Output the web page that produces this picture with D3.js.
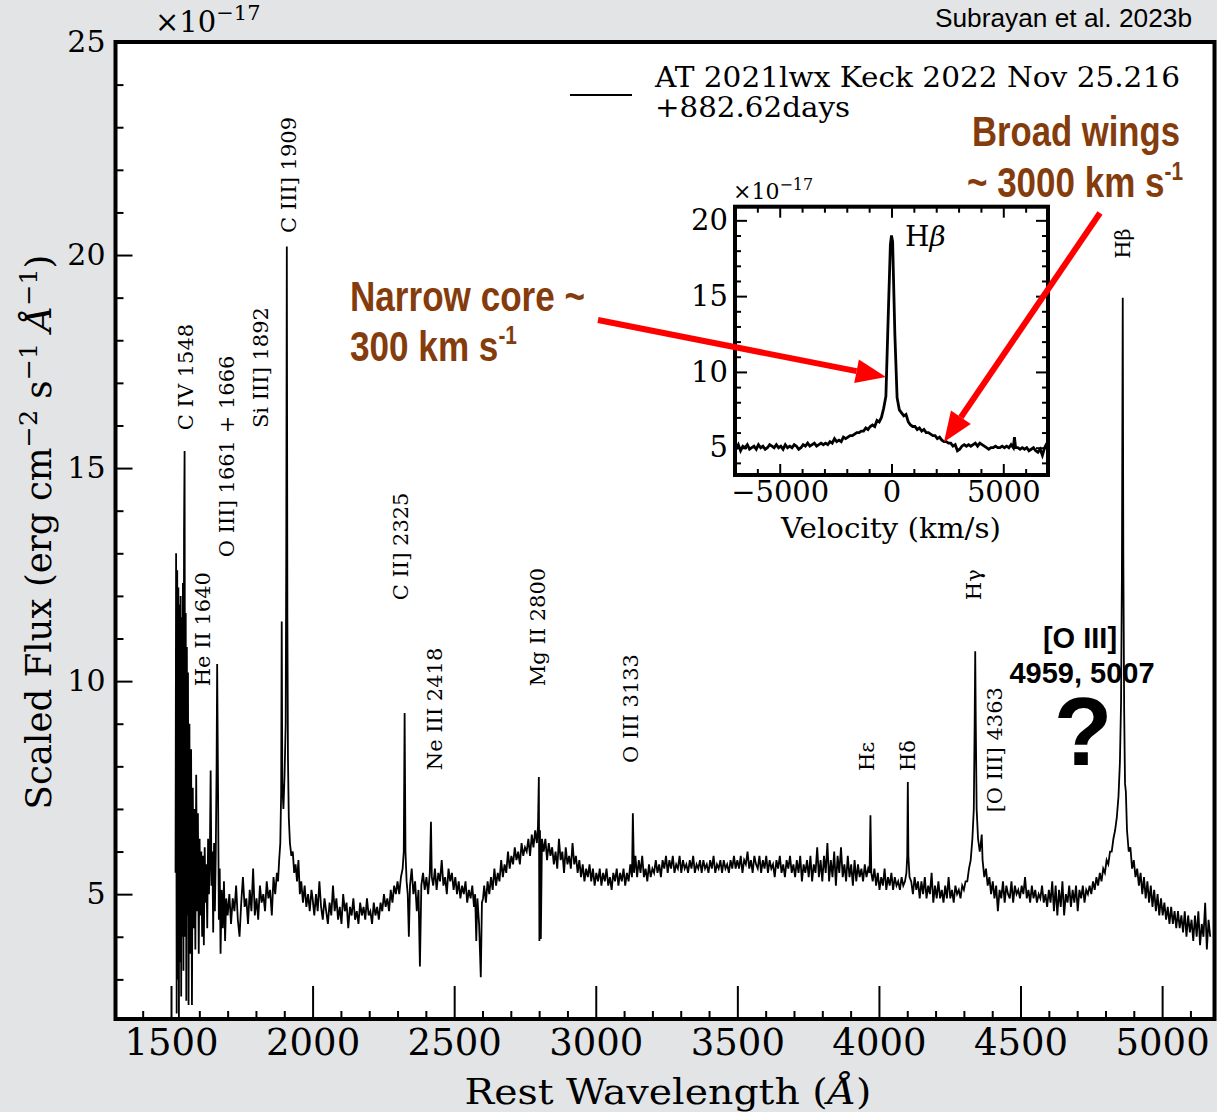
<!DOCTYPE html>
<html>
<head>
<meta charset="utf-8">
<title>AT 2021lwx spectrum</title>
<script src="https://cdn.jsdelivr.net/npm/d3@7"></script>
<style>
  body { margin: 0; background: #e3e4e5; }
  svg text { font-family: "DejaVu Serif", serif; fill: #000; }
  .sans { font-family: "Liberation Sans", Arial, sans-serif; }
</style>
</head>
<body>
<script>
// ---- data ----
// main spectrum: [rest wavelength (A), flux (1e-17 erg/cm2/s/A)]
var spectrum = [
 [1516,5.5],[1518,13.0],[1520,2.2],[1522,12.6],[1524,3.0],[1526,12.2],[1528,2.1],[1530,11.8],[1532,3.4],[1534,12.0],
 [1536,2.6],[1538,11.5],[1540,4.0],[1542,12.3],[1544,3.2],[1546,13.5],[1548,15.4],[1550,4.0],[1552,11.6],[1554,2.5],
 [1556,10.8],[1558,4.5],[1560,10.2],[1562,2.4],[1565,9.0],[1568,3.6],[1571,8.4],[1574,2.4],[1577,7.5],[1580,4.2],
 [1583,7.0],[1586,3.7],[1589,7.8],[1592,4.6],[1595,6.9],[1598,3.6],[1601,6.3],[1604,4.5],[1607,6.0],[1610,4.0],
 [1613,5.9],[1616,3.8],[1619,6.1],[1622,4.8],[1625,5.7],[1628,4.2],[1631,6.3],[1634,5.0],[1637,5.8],[1640,7.9],
 [1643,5.2],[1646,6.0],[1649,4.1],[1652,6.2],[1655,4.6],[1658,5.9],[1661,8.0],[1663,10.4],[1666,7.6],[1669,4.4],
 [1672,5.6],[1675,3.6],[1679,5.1],[1683,4.2],[1687,5.3],[1691,3.9],[1695,4.9],
 [1700,4.5],[1706,5.0],[1712,4.3],[1718,4.9],[1724,4.6],[1730,5.2],[1736,4.4],[1742,4.0],[1748,4.8],[1754,5.4],
 [1760,4.7],[1766,4.9],[1772,4.3],[1778,5.1],[1784,4.6],[1790,5.6],[1796,4.5],[1802,4.9],[1808,4.4],[1814,5.2],
 [1820,4.8],[1826,5.0],[1832,4.6],[1838,5.3],[1844,4.9],[1850,5.1],[1856,4.5],[1862,5.4],[1868,5.0],[1874,5.5],
 [1878,5.3],[1882,5.8],[1886,6.2],[1889,7.4],[1891,11.4],[1893,7.6],[1897,7.0],[1901,7.8],[1905,9.0],[1907,13.0],
 [1909,20.2],[1911,11.5],[1913,8.2],[1916,6.8],[1920,6.2],[1925,5.9],[1930,6.0],[1935,5.5],[1940,5.7],[1945,5.3],
 [1950,5.8],[1955,5.0],[1960,5.3],[1966,4.8],[1972,5.2],[1978,4.7],[1984,5.0],[1990,4.6],[1996,5.1],
 [2000,4.9],[2006,4.5],[2012,5.0],[2018,4.6],[2024,5.3],[2030,4.7],[2036,4.4],[2042,4.9],[2048,4.6],[2054,4.3],
 [2060,4.8],[2066,4.5],[2072,5.2],[2078,4.6],[2084,4.9],[2090,4.4],[2096,4.7],[2102,4.3],[2108,5.0],[2114,4.6],
 [2120,4.8],[2126,4.2],[2132,4.7],[2138,4.5],[2144,4.9],[2150,4.4],[2156,4.6],[2162,4.3],[2168,4.8],[2174,4.5],
 [2180,4.7],[2186,4.4],[2192,4.9],[2198,4.5],[2204,4.6],[2210,4.3],[2216,4.8],[2222,4.5],[2228,4.7],[2234,4.4],
 [2240,4.8],[2246,4.6],[2252,5.0],[2258,4.7],[2264,4.9],[2270,4.6],[2276,5.1],[2282,4.8],[2288,5.2],[2294,5.0],
 [2300,5.3],[2306,5.0],[2312,5.4],[2318,5.6],[2322,6.0],[2325,9.25],[2328,6.0],[2332,5.3],[2336,5.0],[2340,4.0],
 [2344,5.2],[2350,5.6],[2356,5.0],[2362,5.3],[2368,4.6],[2374,5.1],[2379,3.3],[2384,5.2],[2390,5.5],[2396,5.1],
 [2402,5.4],[2408,5.0],[2414,5.5],[2418,6.7],[2421,5.4],[2426,5.2],[2432,5.6],[2438,5.1],[2444,5.5],[2450,5.3],
 [2456,5.8],[2462,5.2],[2468,5.4],[2474,5.0],[2480,5.6],[2486,5.3],[2492,5.5],[2498,5.1],[2504,5.4],[2510,5.0],
 [2516,5.3],[2522,4.9],[2528,5.2],[2534,5.0],[2540,5.3],[2546,4.8],[2552,5.1],[2558,4.9],[2564,5.2],[2570,4.7],
 [2574,5.0],[2578,3.9],[2582,4.9],[2588,4.3],[2594,3.05],[2598,4.8],[2602,4.9],[2606,5.2],[2612,4.8],[2618,5.3],
 [2624,5.0],[2630,5.4],[2636,5.1],[2642,5.6],[2648,5.2],[2654,5.5],[2660,5.3],[2666,5.8],[2672,5.4],[2678,5.7],
 [2684,5.5],[2690,6.0],[2696,5.6],[2702,5.9],[2708,5.7],[2714,6.1],[2720,5.8],[2726,6.0],[2732,5.7],[2738,6.2],
 [2744,5.9],[2750,6.1],[2756,6.0],[2762,6.3],[2768,5.9],[2774,6.4],[2780,6.1],[2786,6.5],[2792,6.2],[2796,6.6],
 [2799,7.75],[2801,3.9],[2803,6.5],[2806,3.95],[2810,6.3],[2816,6.0],[2822,6.3],[2828,5.8],[2834,6.2],[2840,5.9],
 [2846,6.1],[2852,5.7],[2858,6.0],[2864,5.6],[2870,6.3],[2876,5.8],[2882,6.0],[2888,5.5],[2894,6.1],[2900,5.7],
 [2906,5.9],[2912,5.6],[2918,6.2],[2924,5.7],[2930,5.9],[2936,5.5],[2942,5.8],[2948,5.4],[2954,5.7],[2960,5.3],
 [2966,5.6],[2972,5.4],[2978,5.7],[2984,5.3],[2990,5.6],[2996,5.2],[3002,5.5],[3008,5.3],[3014,5.6],[3020,5.2],
 [3026,5.5],[3032,5.3],[3038,5.6],[3044,5.2],[3050,5.4],[3056,5.1],[3062,5.5],[3068,5.3],[3074,5.6],[3080,5.2],
 [3086,5.5],[3092,5.3],[3098,5.6],[3104,5.2],[3110,5.5],[3116,5.3],[3122,5.7],[3128,5.4],[3131,6.9],[3135,5.5],
 [3140,5.9],[3146,5.4],[3152,5.8],[3158,5.5],[3164,5.9],[3170,5.4],[3176,5.6],[3182,5.3],[3188,5.7],[3194,5.4],
 [3200,5.6],[3206,5.5],[3212,5.8],[3218,5.5],[3224,5.7],[3230,5.4],[3236,5.8],[3242,5.6],[3248,5.9],[3254,5.5],
 [3260,5.8],[3266,5.6],[3272,5.9],[3278,5.5],[3284,5.7],[3290,5.6],[3296,5.9],[3302,5.5],[3308,5.8],[3314,5.6],
 [3320,5.7],[3326,5.5],[3332,5.8],[3338,5.6],[3344,5.9],[3350,5.5],[3356,5.7],[3362,5.6],[3368,5.8],[3374,5.5],
 [3380,5.8],[3386,5.6],[3392,5.7],[3398,5.5],[3404,5.8],[3410,5.6],[3416,5.9],[3422,5.5],[3428,5.7],[3434,5.6],
 [3440,5.8],[3446,5.5],[3452,5.8],[3458,5.6],[3464,5.7],[3470,5.5],[3476,5.8],[3482,5.6],[3488,5.9],[3494,5.6],
 [3500,5.8],[3506,5.6],[3512,5.9],[3518,5.5],[3524,5.8],[3530,5.7],[3536,6.0],[3542,5.6],[3548,5.8],[3554,5.5],
 [3560,5.9],[3566,5.7],[3572,5.6],[3578,5.9],[3584,5.5],[3590,5.8],[3596,5.6],[3602,5.9],[3608,5.5],[3614,5.8],
 [3620,5.6],[3626,5.7],[3632,5.4],[3638,5.8],[3644,5.6],[3650,5.9],[3656,5.5],[3662,5.7],[3668,5.4],[3674,5.8],
 [3680,5.6],[3686,5.9],[3692,5.5],[3698,5.7],[3704,5.4],[3710,5.8],[3716,5.5],[3722,5.9],[3728,5.3],[3734,5.7],
 [3740,5.5],[3746,5.8],[3752,5.4],[3758,5.9],[3764,5.3],[3770,5.7],[3776,5.5],[3782,6.1],[3788,5.4],[3794,5.8],
 [3800,5.3],[3806,5.9],[3812,5.5],[3818,6.2],[3824,5.3],[3830,5.8],[3836,5.4],[3842,6.0],[3848,5.2],[3854,5.9],
 [3860,5.5],[3866,6.1],[3872,5.4],[3878,5.7],[3884,5.3],[3890,5.9],[3896,5.4],[3902,5.7],[3908,5.2],[3914,5.8],
 [3920,5.3],[3926,5.7],[3932,5.4],[3938,5.6],[3944,5.3],[3950,5.7],[3956,5.4],[3962,5.6],[3967,5.5],[3970,6.85],
 [3973,5.5],[3978,5.3],[3984,5.6],[3990,5.2],[3996,5.5],[4002,5.1],[4008,5.4],[4014,5.2],[4020,5.6],[4026,5.1],
 [4032,5.4],[4038,5.2],[4044,5.5],[4050,5.1],[4056,5.4],[4062,5.2],[4068,5.3],[4074,5.1],[4080,5.4],[4086,5.2],
 [4092,5.3],[4097,5.5],[4100,5.9],[4102,7.63],[4104,5.9],[4108,5.4],[4114,5.3],[4120,5.0],[4126,5.4],[4132,5.1],
 [4138,5.3],[4144,4.9],[4150,5.3],[4156,5.0],[4162,5.4],[4168,4.9],[4174,5.2],[4180,5.0],[4186,5.5],[4192,4.8],
 [4198,5.2],[4204,4.9],[4210,5.3],[4216,4.9],[4222,5.1],[4228,4.8],[4234,5.2],[4240,4.9],[4246,5.4],[4252,4.9],
 [4258,5.1],[4264,4.8],[4270,5.2],[4276,5.0],[4282,5.1],[4288,4.9],[4294,5.2],[4300,5.1],[4306,5.3],[4312,5.3],
 [4318,5.6],[4324,5.8],[4330,6.3],[4335,7.0],[4338,9.0],[4340,10.7],[4342,9.0],[4345,7.0],[4350,6.3],[4356,6.0],
 [4360,6.2],[4363,6.4],[4366,5.8],[4372,5.4],[4378,5.6],[4384,5.2],[4390,5.4],[4396,5.0],[4402,5.3],[4408,4.9],
 [4414,5.2],[4420,4.6],[4426,5.1],[4432,4.9],[4438,5.3],[4444,4.8],[4450,5.2],[4456,5.0],[4462,4.9],[4468,5.3],
 [4474,4.8],[4480,5.2],[4486,5.0],[4492,5.1],[4498,4.9],[4504,5.2],[4510,5.0],[4516,5.4],[4522,4.9],[4528,5.1],
 [4534,4.8],[4540,5.2],[4546,4.9],[4552,5.1],[4558,4.8],[4564,5.0],[4570,4.9],[4576,5.2],[4582,4.8],[4588,5.0],
 [4594,4.7],[4600,5.1],[4606,4.8],[4612,5.3],[4618,4.6],[4624,5.2],[4630,4.5],[4636,5.1],[4642,4.7],[4648,5.3],
 [4654,4.5],[4660,5.0],[4666,4.8],[4672,5.2],[4678,4.7],[4684,5.1],[4690,4.8],[4696,5.2],[4702,4.6],[4708,5.1],
 [4714,4.9],[4720,5.2],[4726,4.8],[4732,5.1],[4738,5.0],[4744,5.2],[4750,5.0],[4756,5.3],[4762,5.1],[4768,5.4],
 [4774,5.2],[4780,5.5],[4786,5.3],[4792,5.6],[4798,5.5],[4804,5.8],[4810,5.7],[4816,6.0],[4822,6.0],[4828,6.3],
 [4834,6.5],[4840,6.8],[4846,7.3],[4851,8.1],[4855,9.5],[4858,12.5],[4861,19.0],[4863,13.0],[4866,9.3],[4869,7.6],
 [4872,7.4],[4876,6.5],[4882,6.0],[4888,6.1],[4894,5.6],[4900,5.8],[4906,5.4],[4912,5.6],[4918,5.2],[4924,5.5],
 [4930,5.0],[4936,5.4],[4942,4.9],[4948,5.3],[4954,4.8],[4960,5.2],[4966,4.7],[4972,5.1],[4978,4.6],[4984,5.0],
 [4990,4.5],[4996,4.9],[5002,4.5],[5008,4.8],[5014,4.4],[5020,4.7],[5026,4.3],[5032,4.7],[5038,4.3],[5044,4.6],
 [5050,4.2],[5056,4.6],[5062,4.2],[5068,4.5],[5074,4.1],[5080,4.6],[5086,4.0],[5092,4.5],[5098,4.1],[5104,4.4],
 [5110,3.9],[5116,4.5],[5122,4.0],[5128,4.6],[5134,3.8],[5140,4.3],[5146,4.0],[5152,4.8],[5158,3.7],[5164,4.4],[5170,4.0]
];

// inset: H-beta profile, velocity (km/s) and flux
var hbVel = [-6950,-6850,-6750,-6650,-6550,-6450,-6350,-6250,-6150,-6050,-5950,-5850,-5750,-5650,-5550,-5450,-5350,-5250,-5150,-5050,
 -4950,-4850,-4750,-4650,-4550,-4450,-4350,-4250,-4150,-4050,-3950,-3850,-3750,-3650,-3550,-3450,-3350,-3250,-3150,-3050,
 -2950,-2850,-2750,-2650,-2550,-2450,-2350,-2250,-2150,-2050,-1950,-1850,-1750,-1650,-1550,-1450,-1350,-1250,-1150,-1050,
 -950,-850,-750,-650,-550,-450,-350,-250,-150,-50,0,50,150,250,350,450,550,650,750,850,950,1050,1150,1250,1350,1450,1550,
 1650,1750,1850,1950,2050,2150,2250,2350,2450,2550,2650,2750,2850,2950,3050,3150,3250,3350,3450,3550,3650,3750,3850,3950,
 4050,4150,4250,4350,4450,4550,4650,4750,4850,4950,5050,5150,5250,5350,5450,5500,5550,5650,5750,5850,5950,6050,6150,6250,
 6350,6450,6550,6650,6750,6850,6950];
var hbFlux = [4.9,5.2,4.8,5.1,5.0,5.2,4.9,5.0,5.1,4.9,5.2,5.0,5.1,4.9,5.0,5.2,5.1,5.0,5.2,5.0,
 5.1,4.9,5.2,5.0,5.1,5.0,5.2,5.1,4.9,5.0,5.2,5.1,5.3,5.1,5.2,5.3,5.1,5.2,5.3,5.2,
 5.3,5.2,5.4,5.3,5.6,5.4,5.5,5.4,5.7,5.6,5.7,5.8,5.8,5.9,6.0,6.0,6.1,6.1,6.3,6.2,
 6.4,6.5,6.4,6.8,6.7,7.0,7.6,8.4,13.5,18.4,19.0,18.6,12.5,8.3,7.5,7.3,7.1,7.2,6.7,6.5,6.4,6.4,6.2,6.3,6.1,6.2,6.0,
 6.0,5.9,5.8,5.8,5.6,5.7,5.5,5.4,5.4,5.3,5.3,5.1,5.2,4.8,4.9,5.1,5.2,5.1,5.2,5.1,5.2,5.3,5.1,5.3,
 5.2,5.1,5.0,4.9,5.0,5.0,5.1,5.0,5.0,5.1,5.0,5.1,5.0,5.2,5.0,5.7,5.0,5.0,4.9,5.0,4.9,5.0,4.8,4.9,
 5.0,4.8,4.7,4.9,4.5,5.0,5.3];

// line identifications: label, wavelength of label, flux at bottom of label
var lineNames = ["C IV 1548","He II 1640","O III] 1661 + 1666","Si III] 1892","C III] 1909","C II] 2325",
                 "Ne III 2418","Mg II 2800","O III 3133","Hε","Hδ","Hγ","[O III] 4363","Hβ"];
var lineWave  = [1553,1613,1698,1818,1917,2312,2432,2796,3125,3958,4103,4336,4410,4862];
var lineFlux  = [15.89,9.88,12.91,15.94,20.52,11.90,7.91,9.88,8.08,7.89,7.89,11.90,6.92,19.91];

var xMajor = [1500,2000,2500,3000,3500,4000,4500,5000];
var yMajor = [5,10,15,20,25];
var inXMajor = [-5000,0,5000];
var inYMajor = [5,10,15,20];

// ---- svg ----
var W = 1217, H = 1112;
var svg = d3.select("body").append("svg").attr("width", W).attr("height", H);
svg.append("rect").attr("width", W).attr("height", H).attr("fill", "#e3e4e5");

var x = d3.scaleLinear().domain([1304, 5185]).range([115.5, 1214.5]);
var y = d3.scaleLinear().domain([2.07, 25]).range([1019, 42]);

svg.append("rect").attr("x", 115.5).attr("y", 42).attr("width", 1099).attr("height", 977).attr("fill", "#fff");

svg.append("clipPath").attr("id", "clipMain")
  .append("rect").attr("x", 115.5).attr("y", 42).attr("width", 1099).attr("height", 977);

var line = d3.line().x(function(d){ return x(d[0]); }).y(function(d){ return y(d[1]); });
svg.append("path").datum(spectrum)
  .attr("d", line).attr("clip-path", "url(#clipMain)")
  .attr("fill", "none").attr("stroke", "#000").attr("stroke-width", 1.8);

// axes, ticks inward
function styleAxis(g, fs) {
  g.select(".domain").remove();
  g.selectAll(".tick line").attr("stroke", "#000").attr("stroke-width", 2);
  g.selectAll(".tick text").attr("font-family", "DejaVu Serif").attr("font-size", fs).attr("fill", "#000");
}
var xMinor = d3.range(1400, 5200, 100).filter(function(v){ return v % 500 !== 0; });
var yMinor = d3.range(3, 25, 1).filter(function(v){ return v % 5 !== 0; });

svg.append("g").attr("transform", "translate(0,1019)")
  .call(d3.axisBottom(x).tickValues(xMajor).tickSize(-33).tickPadding(10).tickFormat(d3.format("d")))
  .call(styleAxis, 37);
svg.append("g").attr("transform", "translate(0,1019)")
  .call(d3.axisBottom(x).tickValues(xMinor).tickSize(-8).tickFormat(""))
  .call(styleAxis, 10);
svg.append("g").attr("transform", "translate(115.5,0)")
  .call(d3.axisLeft(y).tickValues(yMajor).tickSize(-17).tickPadding(10))
  .call(styleAxis, 30);
svg.append("g").attr("transform", "translate(115.5,0)")
  .call(d3.axisLeft(y).tickValues(yMinor).tickSize(-8).tickFormat(""))
  .call(styleAxis, 10);

svg.append("rect").attr("x", 115.5).attr("y", 42).attr("width", 1099).attr("height", 977)
  .attr("fill", "none").attr("stroke", "#000").attr("stroke-width", 4);

// offset text and axis labels
svg.append("text").attr("x", 155).attr("y", 32).attr("font-size", 29)
  .html('×10<tspan dy="-12" font-size="21">−17</tspan>');

svg.append("text").attr("x", 668).attr("y", 1104).attr("text-anchor", "middle").attr("font-size", 36)
  .attr("textLength", 407).attr("lengthAdjust", "spacingAndGlyphs")
  .html('Rest Wavelength (<tspan font-style="italic">Å</tspan>)');

svg.append("text").attr("transform", "translate(51,532) rotate(-90)").attr("text-anchor", "middle").attr("font-size", 35)
  .attr("textLength", 555).attr("lengthAdjust", "spacingAndGlyphs")
  .html('Scaled Flux (erg cm<tspan dy="-14" font-size="25">−2</tspan><tspan dy="14"> s</tspan>' +
        '<tspan dy="-14" font-size="25">−1</tspan><tspan dy="14"> </tspan><tspan font-style="italic">Å</tspan>' +
        '<tspan dy="-14" font-size="25">−1</tspan><tspan dy="14">)</tspan>');

svg.append("text").attr("class", "sans").attr("x", 1192).attr("y", 27).attr("text-anchor", "end")
  .attr("font-size", 26).attr("textLength", 257).attr("lengthAdjust", "spacingAndGlyphs")
  .text("Subrayan et al. 2023b");

// legend
svg.append("line").attr("x1", 570).attr("x2", 632).attr("y1", 95).attr("y2", 95)
  .attr("stroke", "#000").attr("stroke-width", 1.8);
svg.append("text").attr("x", 655).attr("y", 87).attr("font-size", 27)
  .attr("textLength", 525).attr("lengthAdjust", "spacingAndGlyphs").text("AT 2021lwx Keck 2022 Nov 25.216");
svg.append("text").attr("x", 655).attr("y", 117).attr("font-size", 27)
  .attr("textLength", 195).attr("lengthAdjust", "spacingAndGlyphs").text("+882.62days");

// line identification labels
svg.selectAll(".lid").data(lineNames).enter().append("text")
  .attr("class", "lid")
  .attr("transform", function(d, i){ return "translate(" + (x(lineWave[i]) + 7) + "," + y(lineFlux[i]) + ") rotate(-90)"; })
  .attr("font-size", 21)
  .text(function(d){ return d; });

// ---- inset ----
var ix = d3.scaleLinear().domain([-7000, 7000]).range([735, 1048]);
var iy = d3.scaleLinear().domain([3.2, 20.9]).range([475, 206.7]);
var inset = svg.append("g");
inset.append("rect").attr("x", 735).attr("y", 206.7).attr("width", 313).attr("height", 268.3).attr("fill", "#fff");
inset.append("path").datum(hbVel.map(function(v, i){ return [v, hbFlux[i]]; }))
  .attr("d", d3.line().x(function(d){ return ix(d[0]); }).y(function(d){ return iy(d[1]); }))
  .attr("fill", "none").attr("stroke", "#000").attr("stroke-width", 2.8);

var ixMinor = d3.range(-7000, 7001, 1000).filter(function(v){ return v % 5000 !== 0; });
var iyMinor = d3.range(4, 21, 1).filter(function(v){ return v % 5 !== 0; });
inset.append("g").attr("transform", "translate(0,475)")
  .call(d3.axisBottom(ix).tickValues(inXMajor).tickSize(-11).tickPadding(6).tickFormat(function(d){ return d < 0 ? "−" + (-d) : d; }))
  .call(styleAxis, 29);
inset.append("g").attr("transform", "translate(0,475)")
  .call(d3.axisBottom(ix).tickValues(ixMinor).tickSize(-6).tickFormat("")).call(styleAxis, 10);
inset.append("g").attr("transform", "translate(0,206.7)")
  .call(d3.axisTop(ix).tickValues(inXMajor).tickSize(-11).tickFormat("")).call(styleAxis, 10);
inset.append("g").attr("transform", "translate(0,206.7)")
  .call(d3.axisTop(ix).tickValues(ixMinor).tickSize(-6).tickFormat("")).call(styleAxis, 10);
inset.append("g").attr("transform", "translate(735,0)")
  .call(d3.axisLeft(iy).tickValues(inYMajor).tickSize(-12).tickPadding(7)).call(styleAxis, 29);
inset.append("g").attr("transform", "translate(735,0)")
  .call(d3.axisLeft(iy).tickValues(iyMinor).tickSize(-6).tickFormat("")).call(styleAxis, 10);
inset.append("g").attr("transform", "translate(1048,0)")
  .call(d3.axisRight(iy).tickValues(inYMajor).tickSize(-12).tickFormat("")).call(styleAxis, 10);
inset.append("g").attr("transform", "translate(1048,0)")
  .call(d3.axisRight(iy).tickValues(iyMinor).tickSize(-6).tickFormat("")).call(styleAxis, 10);
inset.append("rect").attr("x", 735).attr("y", 206.7).attr("width", 313).attr("height", 268.3)
  .attr("fill", "none").attr("stroke", "#000").attr("stroke-width", 4);

inset.append("text").attr("x", 733).attr("y", 199).attr("font-size", 22)
  .html('×10<tspan dy="-9" font-size="16">−17</tspan>');
inset.append("text").attr("x", 891).attr("y", 538).attr("text-anchor", "middle").attr("font-size", 28)
  .attr("textLength", 220).attr("lengthAdjust", "spacingAndGlyphs").text("Velocity (km/s)");
inset.append("text").attr("x", 905).attr("y", 246).attr("font-size", 28)
  .html('H<tspan font-style="italic">β</tspan>');

// ---- annotations ----
var brown = "#843c0c";
function arrow(x1, y1, x2, y2) {
  var a = Math.atan2(y2 - y1, x2 - x1), L = 30, w = 12;
  var bx = x2 - L * Math.cos(a), by = y2 - L * Math.sin(a);
  svg.append("line").attr("x1", x1).attr("y1", y1).attr("x2", bx).attr("y2", by)
    .attr("stroke", "#ff0000").attr("stroke-width", 6);
  svg.append("polygon").attr("fill", "#ff0000")
    .attr("points", [[x2, y2], [bx + w * Math.sin(a), by - w * Math.cos(a)], [bx - w * Math.sin(a), by + w * Math.cos(a)]]
      .map(function(p){ return p.join(","); }).join(" "));
}
arrow(598, 320, 886, 377);
arrow(1100, 213, 944, 442);

function note(xp, yp, w, anchor, html) {
  svg.append("text").attr("class", "sans").attr("x", xp).attr("y", yp).attr("font-size", 42)
    .attr("font-weight", "bold").attr("text-anchor", anchor).style("fill", brown)
    .attr("textLength", w).attr("lengthAdjust", "spacingAndGlyphs").html(html);
}
note(350, 311, 235, "start", "Narrow core ~");
note(350, 361, 167, "start", '300 km s<tspan dy="-17" font-size="25">-1</tspan>');
note(1180, 146, 208, "end", "Broad wings");
note(1183, 197, 216, "end", '~ 3000 km s<tspan dy="-17" font-size="25">-1</tspan>');

svg.append("text").attr("class", "sans").attr("x", 1080).attr("y", 648).attr("text-anchor", "middle")
  .attr("font-size", 29).attr("font-weight", "bold").text("[O III]");
svg.append("text").attr("class", "sans").attr("x", 1082).attr("y", 683).attr("text-anchor", "middle")
  .attr("font-size", 29).attr("font-weight", "bold").text("4959, 5007");
svg.append("text").attr("class", "sans").attr("x", 1083).attr("y", 765).attr("text-anchor", "middle")
  .attr("font-size", 96).attr("font-weight", "bold").text("?");
</script>
</body>
</html>
